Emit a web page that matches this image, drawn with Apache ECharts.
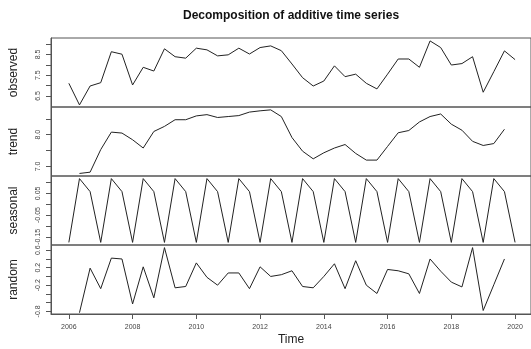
<!DOCTYPE html>
<html>
<head>
<meta charset="utf-8">
<script src="https://cdn.jsdelivr.net/npm/echarts@6/dist/echarts.min.js"></script>
<style>html,body{margin:0;padding:0;background:#fff}#c{width:531px;height:349px}</style>
</head>
<body>
<div id="c"></div>
<script>
// time series settings
const startYear = 2006;
const frequency = 3;
const xTickYears = [2006, 2008, 2010, 2012, 2014, 2016, 2018, 2020];

const observed = [7.11,6.07,6.98,7.14,8.63,8.51,7.03,7.88,7.70,8.77,8.39,8.32,8.80,8.72,8.43,8.48,8.80,8.52,8.83,8.91,8.68,8.04,7.38,6.98,7.22,7.95,7.43,7.55,7.11,6.84,7.55,8.28,8.28,7.88,9.15,8.83,7.99,8.06,8.39,6.68,7.67,8.67,8.25];
const trend = [null,6.78,6.82,7.53,8.08,8.05,7.84,7.58,8.10,8.26,8.47,8.47,8.59,8.63,8.54,8.57,8.60,8.71,8.75,8.78,8.57,7.91,7.48,7.24,7.43,7.58,7.69,7.41,7.20,7.20,7.63,8.06,8.13,8.40,8.57,8.65,8.33,8.14,7.79,7.66,7.72,8.17,null];
const seasonal = [-0.176,0.118,0.058,-0.176,0.118,0.058,-0.176,0.118,0.058,-0.176,0.118,0.058,-0.176,0.118,0.058,-0.176,0.118,0.058,-0.176,0.118,0.058,-0.176,0.118,0.058,-0.176,0.118,0.058,-0.176,0.118,0.058,-0.176,0.118,0.058,-0.176,0.118,0.058,-0.176,0.118,0.058,-0.176,0.118,0.058,-0.176];
const random = [null,-0.83,0.19,-0.28,0.42,0.40,-0.63,0.22,-0.49,0.66,-0.26,-0.23,0.31,-0.02,-0.20,0.08,0.08,-0.28,0.22,0.00,0.04,0.13,-0.23,-0.26,0.00,0.29,-0.28,0.36,-0.20,-0.39,0.16,0.13,0.06,-0.39,0.40,0.12,-0.13,-0.24,0.66,-0.78,-0.19,0.40,null];

const panelNames = ['observed', 'trend', 'seasonal', 'random'];
const panelData = [observed, trend, seasonal, random];
const yTicks = [
  [6.5, 7.0, 7.5, 8.0, 8.5, 9.0],
  [7.0, 7.5, 8.0, 8.5],
  [-0.15, -0.10, -0.05, 0.00, 0.05, 0.10],
  [-0.8, -0.6, -0.4, -0.2, 0.0, 0.2, 0.4, 0.6]
];
const yLabels = [
  ['6.5', '7.5', '8.5'],
  ['7.0', '8.0'],
  ['-0.15', '-0.05', '0.05'],
  ['-0.8', '-0.2', '0.2', '0.6']
];
const yRanges = [[5.97, 9.29], [6.70, 8.87], [-0.188, 0.130], [-0.86, 0.72]];

const grids = [], xAxes = [], yAxes = [], series = [];
const tops = [38, 107, 176, 245];
for (let p = 0; p < 4; p++) {
  grids.push({ left: 50, width: 481, top: tops[p], height: 69, show: true, borderColor: '#555', borderWidth: 1, backgroundColor: 'transparent' });
  const isBottom = p === 3;
  xAxes.push({
    type: 'value', gridIndex: p, min: 2005.44, max: 2020.5, position: 'bottom',
    axisLine: { show: isBottom, onZero: false, lineStyle: { color: '#555' } },
    splitLine: { show: false },
    axisTick: { show: isBottom, length: 5, lineStyle: { color: '#555' }, customValues: xTickYears },
    axisLabel: { show: isBottom, customValues: xTickYears, fontSize: 7, color: '#444', margin: 10, fontFamily: 'Liberation Sans, Arial, sans-serif', formatter: v => String(Math.round(v)) },
    name: isBottom ? 'Time' : '', nameLocation: 'middle', nameGap: 20,
    nameTextStyle: { fontSize: 12, color: '#222', fontFamily: 'Liberation Sans, Arial, sans-serif' }
  });
  const labs = yLabels[p];
  yAxes.push({
    type: 'value', gridIndex: p, min: yRanges[p][0], max: yRanges[p][1],
    axisLine: { show: true, onZero: false, lineStyle: { color: '#555' } },
    splitLine: { show: false },
    axisTick: { show: true, length: 5, lineStyle: { color: '#555' }, customValues: yTicks[p] },
    axisLabel: { customValues: labs.map(Number), rotate: 90, fontSize: 7, color: '#444', margin: 9,
      fontFamily: 'Liberation Sans, Arial, sans-serif',
      formatter: v => { for (const l of labs) { if (Math.abs(Number(l) - v) < 1e-9) return l; } return ''; } },
    name: panelNames[p], nameLocation: 'middle', nameGap: 31, nameRotate: 90,
    nameTextStyle: { fontSize: 12, color: '#222', fontFamily: 'Liberation Sans, Arial, sans-serif' }
  });
  const pts = [];
  panelData[p].forEach((v, i) => { if (v !== null) pts.push([startYear + i / frequency, v]); });
  series.push({
    type: 'line', xAxisIndex: p, yAxisIndex: p, data: pts, showSymbol: false,
    lineStyle: { color: '#222', width: 1 }, silent: true, animation: false
  });
}

const chart = echarts.init(document.getElementById('c'), null, { renderer: 'canvas' });
chart.setOption({
  animation: false,
  backgroundColor: '#fff',
  title: { text: 'Decomposition of additive time series', left: 178, top: 5,
    textStyle: { fontSize: 12, fontWeight: 'bold', color: '#111', fontFamily: 'Liberation Sans, Arial, sans-serif' } },
  grid: grids, xAxis: xAxes, yAxis: yAxes, series: series
});
</script>
</body>
</html>
